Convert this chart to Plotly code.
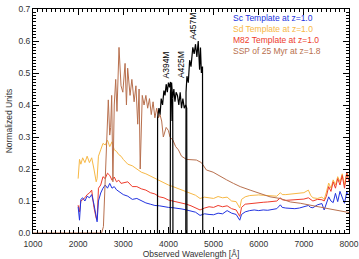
import plotly.graph_objects as go

# Galaxy template spectra (common wavelength grid, Angstrom)
wl = [2000, 2030, 2060, 2100, 2150, 2200, 2250, 2300, 2350, 2400,
      2420, 2450, 2500, 2550, 2600, 2650, 2700, 2750, 2800, 2850,
      2900, 2950, 3000, 3100, 3200, 3300, 3400, 3500, 3600, 3700,
      3800, 3900, 4000, 4100, 4200, 4300, 4400, 4500, 4600, 4700,
      4800, 4900, 5000, 5100, 5200, 5300, 5400, 5500, 5580, 5620,
      5700, 5800, 5900, 6000, 6100, 6200, 6300, 6400, 6480, 6520,
      6600, 6700, 6800, 6900, 7000, 7100, 7150, 7200, 7300, 7400,
      7450, 7500, 7550, 7600, 7650, 7700, 7750, 7800, 7850, 7900,
      7950, 8000]

sc_vals = [0.082, 0.040, 0.105, 0.110, 0.100, 0.115, 0.110, 0.120, 0.090, 0.040,
           0.035, 0.100, 0.125, 0.140, 0.150, 0.140, 0.155, 0.140, 0.145, 0.135,
           0.130, 0.125, 0.120, 0.115, 0.105, 0.108, 0.100, 0.094, 0.090, 0.086,
           0.085, 0.082, 0.080, 0.079, 0.078, 0.075, 0.072, 0.068, 0.065, 0.055,
           0.060, 0.058, 0.057, 0.062, 0.060, 0.070, 0.062, 0.058, 0.040, 0.058,
           0.066, 0.070, 0.072, 0.070, 0.072, 0.071, 0.073, 0.076, 0.088, 0.080,
           0.078, 0.077, 0.076, 0.078, 0.082, 0.086, 0.080, 0.079, 0.088, 0.092,
           0.072, 0.090, 0.113, 0.100, 0.095, 0.124, 0.098, 0.130, 0.110, 0.093,
           0.128, 0.118]

sd_vals = [0.170, 0.230, 0.215, 0.235, 0.220, 0.240, 0.220, 0.235, 0.200, 0.160,
           0.170, 0.240, 0.260, 0.280, 0.275, 0.290, 0.270, 0.285, 0.260, 0.255,
           0.245, 0.240, 0.230, 0.215, 0.210, 0.200, 0.190, 0.185, 0.178, 0.170,
           0.163, 0.158, 0.150, 0.145, 0.140, 0.134, 0.130, 0.124, 0.118, 0.108,
           0.112, 0.110, 0.108, 0.114, 0.110, 0.112, 0.100, 0.098, 0.078, 0.105,
           0.113, 0.117, 0.119, 0.119, 0.118, 0.117, 0.116, 0.115, 0.126, 0.120,
           0.120, 0.122, 0.123, 0.124, 0.126, 0.134, 0.118, 0.110, 0.108, 0.112,
           0.105, 0.128, 0.156, 0.140, 0.166, 0.150, 0.176, 0.160, 0.185, 0.150,
           0.190, 0.175]

m82_vals = [0.087, 0.066, 0.100, 0.105, 0.110, 0.120, 0.125, 0.134, 0.080, 0.046,
            0.042, 0.140, 0.150, 0.176, 0.170, 0.187, 0.180, 0.165, 0.175, 0.160,
            0.165, 0.155, 0.156, 0.160, 0.145, 0.145, 0.138, 0.134, 0.126, 0.122,
            0.113, 0.110, 0.103, 0.100, 0.095, 0.093, 0.090, 0.085, 0.078, 0.072,
            0.078, 0.082, 0.080, 0.086, 0.082, 0.085, 0.076, 0.072, 0.052, 0.080,
            0.090, 0.092, 0.094, 0.095, 0.096, 0.097, 0.098, 0.100, 0.110, 0.104,
            0.102, 0.103, 0.102, 0.104, 0.106, 0.110, 0.104, 0.100, 0.105, 0.104,
            0.100, 0.115, 0.145, 0.130, 0.160, 0.140, 0.170, 0.150, 0.180, 0.140,
            0.187, 0.160]

# Simple stellar population, 25 Myr at z=1.8
ssp_wl = [1000, 2520, 2560, 2600, 2630, 2668, 2700, 2720, 2743, 2770,
          2800, 2832, 2860, 2905, 2950, 2990, 3040, 3070, 3097, 3150,
          3190, 3240, 3280, 3320, 3350, 3375, 3420, 3460, 3500, 3540,
          3580, 3620, 3660, 3700, 3740, 3780, 3813, 3850, 3887, 3950,
          4000, 4035, 4100, 4160, 4220, 4290, 4400, 4480, 4620, 4730,
          4840, 4990, 5130, 5290, 5440, 5590, 5810, 6030, 6250, 6470,
          6700, 6920, 7140, 7360, 7580, 7810, 8000]
ssp_vals = [0.0, 0.0, 0.02, 0.15, 0.30, 0.416, 0.306, 0.33, 0.43, 0.16,
            0.40, 0.48, 0.38, 0.58, 0.46, 0.44, 0.53, 0.40, 0.515, 0.43,
            0.48, 0.41, 0.46, 0.34, 0.45, 0.20, 0.43, 0.40, 0.43, 0.39,
            0.42, 0.37, 0.41, 0.36, 0.39, 0.36, 0.37, 0.35, 0.30, 0.33,
            0.32, 0.30, 0.29, 0.27, 0.26, 0.24, 0.23, 0.23, 0.228, 0.22,
            0.197, 0.19, 0.178, 0.166, 0.155, 0.145, 0.134, 0.124, 0.113, 0.108,
            0.097, 0.093, 0.088, 0.081, 0.075, 0.070, 0.064]

# Filter transmission curves
f394_wl = [3758, 3760, 3790, 3815, 3840, 3870, 3900, 3925, 3950, 3975, 4000, 4025, 4045, 4065, 4080, 4095, 4100]
f394_vals = [0.0, 0.36, 0.39, 0.37, 0.42, 0.40, 0.445, 0.43, 0.465, 0.44, 0.47, 0.455, 0.472, 0.44, 0.35, 0.42, 0.0]

f425_wl = [4040, 4045, 4070, 4095, 4120, 4145, 4170, 4200, 4230, 4260, 4290, 4320, 4350, 4380, 4405, 4410]
f425_vals = [0.0, 0.44, 0.47, 0.42, 0.45, 0.41, 0.44, 0.43, 0.40, 0.44, 0.39, 0.42, 0.39, 0.40, 0.39, 0.0]

f457_wl = [4385, 4390, 4410, 4440, 4470, 4500, 4540, 4570, 4600, 4630, 4660, 4690, 4710, 4730, 4755, 4760]
f457_vals = [0.0, 0.44, 0.49, 0.47, 0.54, 0.52, 0.58, 0.56, 0.59, 0.55, 0.60, 0.51, 0.58, 0.50, 0.52, 0.0]

filter_names = ["A394M", "A425M", "A457M"]
filter_label_x = [3957, 4280, 4545]
filter_label_y = [0.525, 0.525, 0.645]

legend_labels = ["Sc Template at z=1.0", "Sd Template at z=1.0",
                 "M82 Template at z=1.0", "SSP of 25 Myr at z=1.8"]

c_sc = "#2233e0"
c_sd = "#f7b845"
c_m82 = "#ee3b2b"
c_ssp = "#b8704e"
FONT = "Liberation Sans"

fig = go.Figure()
fig.add_trace(go.Scatter(x=wl, y=sd_vals, mode="lines", line=dict(color=c_sd, width=1)))
fig.add_trace(go.Scatter(x=wl, y=m82_vals, mode="lines", line=dict(color=c_m82, width=1)))
fig.add_trace(go.Scatter(x=wl, y=sc_vals, mode="lines", line=dict(color=c_sc, width=1)))
fig.add_trace(go.Scatter(x=ssp_wl, y=ssp_vals, mode="lines", line=dict(color=c_ssp, width=1)))
for fx, fy in [(f394_wl, f394_vals), (f425_wl, f425_vals), (f457_wl, f457_vals)]:
    fig.add_trace(go.Scatter(x=fx, y=fy, mode="lines", line=dict(color="black", width=1.2)))

for name, lx, ly in zip(filter_names, filter_label_x, filter_label_y):
    fig.add_annotation(x=lx, y=ly, xref="x", yref="y", text=name, textangle=-90,
                       showarrow=False, font=dict(family=FONT, size=8.5, color="black"))

leg_colors = [c_sc, c_sd, c_m82, c_ssp]
legend_text = "<br>".join(
    f"<span style='color:{c}'>{t}</span>" for t, c in zip(legend_labels, leg_colors))
fig.add_annotation(x=5400, y=0.69, xref="x", yref="y", text=legend_text, showarrow=False,
                   xanchor="left", yanchor="top", align="left", borderpad=0,
                   font=dict(family=FONT, size=8.5, color=c_sc))

axis_common = dict(showline=True, linecolor="black", linewidth=1, mirror="allticks",
                   ticks="inside", ticklen=6, tickcolor="black", showgrid=False,
                   zeroline=False, automargin=False,
                   tickfont=dict(family=FONT, size=8.5, color="#333"))

fig.update_xaxes(range=[1000, 8000], tick0=1000, dtick=1000, ticklabelstandoff=3,
                 minor=dict(ticks="inside", dtick=100, ticklen=3, tickcolor="black", showgrid=False),
                 title=dict(text="Observed Wavelength [Å]", standoff=1,
                            font=dict(family=FONT, size=8.5, color="#333")),
                 **axis_common)
fig.update_yaxes(range=[0, 0.7], tick0=0, dtick=0.1, tickformat=".1f",
                 minor=dict(ticks="inside", dtick=0.01, ticklen=3, tickcolor="black", showgrid=False),
                 title=dict(text="Normalized Units", standoff=4,
                            font=dict(family=FONT, size=8.5, color="#333")),
                 **axis_common)

fig.update_layout(width=359, height=259, margin=dict(l=33, r=10, t=9, b=26),
                  plot_bgcolor="white", paper_bgcolor="white", showlegend=False)

fig.write_html("out.html")
